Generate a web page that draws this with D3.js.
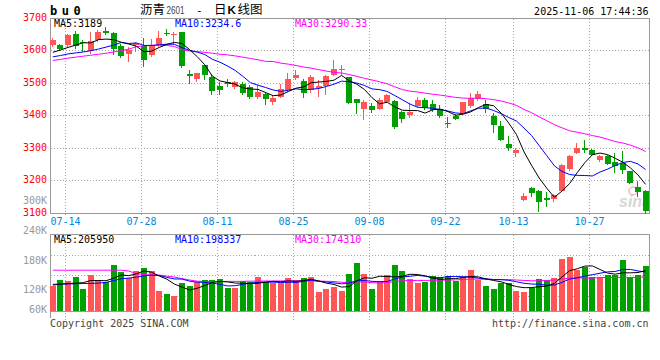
<!DOCTYPE html>
<html><head><meta charset="utf-8">
<script src="https://cdn.jsdelivr.net/npm/d3@7"></script>
<style>body{margin:0;background:#fff}svg{display:block}</style>
</head><body><svg id="c" width="660" height="360"></svg>
<script>
const dates = ["07-11","07-14","07-15","07-16","07-17","07-18","07-21","07-22","07-23","07-24","07-25","07-28","07-29","07-30","07-31",
"08-01","08-04","08-05","08-06","08-07","08-08","08-11","08-12","08-13","08-14","08-15","08-18","08-19","08-20","08-21","08-22","08-25","08-26","08-27","08-28","08-29",
"09-01","09-02","09-03","09-04","09-05","09-08","09-09","09-10","09-11","09-12","09-15","09-16","09-17","09-18","09-19","09-22","09-23","09-24","09-25","09-26","09-29","09-30",
"10-09","10-10","10-13","10-14","10-15","10-16","10-17","10-20","10-21","10-22","10-23","10-24","10-27","10-28","10-29","10-30","10-31",
"11-03","11-04","11-05","11-06"];
const open  = [3619,3617,3617,3651,3628,3600,3633,3663,3656,3614,3592,3617,3614,3587,3617,3655,3648,3658,3530,3513,3556,3519,3493,3505,3490,3500,3490,3459,3469,3444,3458,3480,3517,3507,3480,3487,3493,3526,3541,3520,3452,3421,3431,3421,3444,3446,3411,3403,3431,3448,3437,3421,3377,3400,3410,3432,3452,3437,3400,3369,3313,3286,3143,3178,3170,3147,3144,3170,3236,3285,3303,3296,3264,3276,3258,3255,3230,3181,3169];
const high  = [3640,3622,3652,3663,3633,3658,3666,3673,3658,3622,3612,3628,3640,3638,3663,3668,3660,3658,3541,3533,3558,3526,3505,3515,3507,3505,3495,3495,3474,3464,3500,3531,3541,3515,3526,3510,3526,3571,3556,3520,3452,3449,3441,3454,3469,3449,3415,3439,3458,3455,3449,3434,3398,3406,3444,3472,3477,3449,3408,3385,3340,3301,3163,3181,3172,3166,3160,3252,3280,3316,3327,3298,3280,3280,3286,3292,3232,3199,3172];
const low   = [3613,3600,3612,3607,3597,3590,3628,3650,3587,3580,3566,3597,3551,3582,3612,3646,3622,3548,3500,3505,3510,3464,3464,3490,3483,3464,3452,3452,3434,3434,3455,3475,3510,3456,3472,3459,3464,3522,3526,3436,3405,3388,3408,3418,3439,3360,3378,3395,3425,3420,3413,3395,3362,3388,3405,3426,3446,3408,3347,3324,3293,3273,3138,3152,3106,3121,3134,3165,3232,3282,3285,3276,3258,3248,3225,3222,3190,3152,3100];
const close = [3633,3607,3648,3615,3624,3630,3658,3656,3607,3584,3602,3624,3571,3617,3640,3651,3653,3554,3524,3531,3526,3478,3480,3500,3505,3471,3459,3474,3452,3456,3482,3513,3525,3472,3520,3493,3522,3544,3545,3439,3439,3442,3418,3449,3464,3367,3391,3413,3448,3426,3418,3401,3375,3392,3442,3454,3467,3423,3372,3327,3301,3294,3155,3162,3134,3143,3156,3250,3277,3302,3296,3279,3276,3253,3246,3234,3193,3167,3108];
const volume = [129000,157000,152000,173000,112000,183000,157000,147000,234000,198000,166000,203000,218000,203000,102000,86000,78000,141000,127000,147000,157000,157000,163000,118000,118000,152000,147000,171000,146000,141000,141000,169000,157000,169000,174000,98000,112000,123000,102000,188000,245000,188000,112000,152000,183000,234000,205000,163000,144000,149000,178000,171000,178000,152000,174000,208000,157000,127000,112000,141000,141000,102000,98000,115000,163000,157000,169000,264000,276000,210000,225000,174000,174000,183000,183000,259000,174000,182000,230000];
// moving-average values before a full window exists
const ma5Head  = [3596,3603,3611,3618];
const ma10Head = [3582,3586,3591,3594,3597,3601,3606,3612,3618];
const ma30Head = [3571,3574,3578,3581,3584,3587,3590,3593,3597,3601,3606,3613,3616,3617,3618,3617,3614,3604,3600,3598,3596,3593,3590,3588,3585,3581,3577,3573,3568];
const volMa5Head  = [132000,137000,140000,142000];
const volMa10Head = [136000,137000,138000,139000,140000,141000,142000,146000,155000];
const volMa30Head = [208000,208000,208000,208000,208000,208000,208000,208000,208000,208000,204000,190000,186000,184000,183000,178000,173000,165000,158000,152000,150000,150000,150000,151000,151000,151000,152000,152000,153000];
const priceTicks = [3700,3600,3500,3400,3300,3200,3100];
const priceGrid = [3600,3500,3400,3300,3200];
const volLabels = [300000,240000,180000,120000,60000];
const dateTicks = ["07-14","07-28","08-11","08-25","09-08","09-22","10-13","10-27"];
const maText = {p5:"MA5:3189", p10:"MA10:3234.6", p30:"MA30:3290.33", v5:"MA5:205950", v10:"MA10:198337", v30:"MA30:174310"};

const svg = d3.select("#c");
const MONO = "'DejaVu Sans Mono', monospace";
const RED = "#ff5555", GREEN = "#00a000", GRID = "#a8a8a8", BORDER = "#999";
const L = 50.5, R = 649.5, mTop = 18.5, mBot = 213.5, vTop = 234.5, vBot = 311;

const x = d3.scaleBand().domain(dates).range([49, 49 + dates.length * 7.6]);
const cx = d => x(d) + x.step() / 2;
const y = d3.scaleLinear().domain([3100, 3700]).range([mBot, mTop]);
const yv = d3.scaleLinear().domain([0, 390000]).range([vBot, vTop]);
const yLab = d3.scaleLinear().domain([120000, 300000]).range([293.3, 204]);

function ma(arr, n, head) {
  return arr.map((_, i) => i < n - 1 ? head[i] : d3.mean(arr.slice(i - n + 1, i + 1)));
}

// watermark
const wm = svg.append("g").attr("opacity", 0.55);
wm.append("circle").attr("cx", 633).attr("cy", 191).attr("r", 4).attr("fill", "none").attr("stroke", "#e08080").attr("stroke-width", 1.5);
wm.append("text").attr("x", 619).attr("y", 207).attr("font-family", "'Liberation Sans', sans-serif")
  .attr("font-weight", "bold").attr("font-style", "italic").attr("font-size", 16).attr("fill", "#b8b8b8").text("sina");

// grids
const g = svg.append("g").attr("shape-rendering", "crispEdges");
priceGrid.forEach(t => {
  const yy = Math.round(y(t)) - 0.5;
  g.append("line").attr("x1", L).attr("x2", R).attr("y1", yy).attr("y2", yy)
    .attr("stroke", GRID).attr("stroke-dasharray", "1,2");
});
[1, 2, 3].forEach(k => {
  const yy = Math.floor(vTop + k * 20.5) + 0.5;
  g.append("line").attr("x1", L).attr("x2", R).attr("y1", yy).attr("y2", yy)
    .attr("stroke", GRID).attr("stroke-dasharray", "1,2");
});
dateTicks.forEach(d => {
  const gx = Math.floor(x(d) + x.step() + 1) + 0.5;
  g.append("line").attr("x1", gx).attr("x2", gx).attr("y1", mTop).attr("y2", mBot + 3)
    .attr("stroke", GRID).attr("stroke-dasharray", "1,2");
  g.append("line").attr("x1", gx).attr("x2", gx).attr("y1", vTop).attr("y2", vBot + 9)
    .attr("stroke", GRID).attr("stroke-dasharray", "1,2");
  svg.append("text").attr("x", gx).attr("y", 225.3).attr("text-anchor", "middle")
    .attr("font-family", MONO).attr("font-size", 10).attr("fill", "#0088dd").text(d);
});

// borders
g.append("rect").attr("x", L).attr("y", mTop).attr("width", R - L).attr("height", mBot - mTop)
  .attr("fill", "none").attr("stroke", BORDER);
g.append("rect").attr("x", L).attr("y", vTop).attr("width", R - L).attr("height", vBot - vTop + 0.5)
  .attr("fill", "none").attr("stroke", BORDER);
g.append("line").attr("x1", L).attr("x2", L).attr("y1", vBot).attr("y2", 318).attr("stroke", BORDER);

// candles
const cg = svg.append("g").attr("shape-rendering", "crispEdges");
dates.forEach((d, i) => {
  const col = close[i] >= open[i] ? RED : GREEN;
  const bx = Math.round(cx(d) - 3);
  cg.append("line").attr("x1", bx + 2.5).attr("x2", bx + 2.5)
    .attr("y1", y(high[i])).attr("y2", y(low[i])).attr("stroke", col);
  const top = y(Math.max(open[i], close[i])), bot = y(Math.min(open[i], close[i]));
  cg.append("rect").attr("x", bx).attr("width", 6).attr("y", top).attr("height", Math.max(1, bot - top)).attr("fill", col);
  // volume
  cg.append("rect").attr("x", bx).attr("width", 6).attr("y", yv(volume[i])).attr("height", vBot - yv(volume[i])).attr("fill", col);
});

// MA lines
const ma5 = ma(close, 5, ma5Head), ma10 = ma(close, 10, ma10Head), ma30 = ma(close, 30, ma30Head);
const vma5 = ma(volume, 5, volMa5Head), vma10 = ma(volume, 10, volMa10Head), vma30 = ma(volume, 30, volMa30Head);
const lineP = d3.line().x((d, i) => cx(dates[i])).y(d => y(d));
const lineV = d3.line().x((d, i) => cx(dates[i])).y(d => yv(d));
[[ma30, "#ff00ff"], [ma10, "#0000ff"], [ma5, "#000"]].forEach(([s, c]) =>
  svg.append("path").attr("d", lineP(s)).attr("fill", "none").attr("stroke", c).attr("stroke-width", 1));
[[vma30, "#ff00ff"], [vma10, "#0000ff"], [vma5, "#000"]].forEach(([s, c]) =>
  svg.append("path").attr("d", lineV(s)).attr("fill", "none").attr("stroke", c).attr("stroke-width", 1));

// price axis labels
priceTicks.forEach(t => {
  svg.append("text").attr("x", 47).attr("y", y(t) + 2.3).attr("text-anchor", "end")
    .attr("font-family", MONO).attr("font-size", 10).attr("fill", "#ff0000").text(t);
});
// volume axis labels
volLabels.forEach(v => {
  svg.append("text").attr("x", 47).attr("y", Math.min(yLab(v), 313.3)).attr("text-anchor", "end")
    .attr("font-family", MONO).attr("font-size", 10).attr("fill", "#999").text((v / 1000) + "K");
});

// MA legends
function txt(xp, yp, s, c) {
  svg.append("text").attr("x", xp).attr("y", yp).attr("font-family", MONO).attr("font-size", 10).attr("fill", c).text(s);
}
txt(54, 27, maText.p5, "#000"); txt(175, 27, maText.p10, "#0000ff"); txt(295, 27, maText.p30, "#ff00ff");
txt(54, 242.5, maText.v5, "#000"); txt(175, 242.5, maText.v10, "#0000ff"); txt(295, 242.5, maText.v30, "#ff00ff");

// header
svg.append("text").attr("x", 50).attr("y", 15).attr("font-family", MONO).attr("font-weight", "bold")
  .attr("font-size", 12).attr("letter-spacing", 4.5).attr("fill", "#000").text("bu0");
const CJK = "'Noto Sans CJK SC', sans-serif";
svg.append("text").attr("x", 140).attr("y", 14).attr("font-family", CJK).attr("font-size", 12.5).attr("fill", "#000").text("沥青");
svg.append("text").attr("x", 166.5).attr("y", 14).attr("font-family", "'Liberation Sans', sans-serif").attr("font-size", 11)
  .attr("textLength", 18).attr("lengthAdjust", "spacingAndGlyphs").attr("fill", "#444").text("2601");
svg.append("text").attr("x", 199.3).attr("y", 13.5).attr("text-anchor", "middle").attr("font-family", MONO).attr("font-size", 11).attr("fill", "#000").text("-");
svg.append("text").attr("x", 214).attr("y", 14).attr("font-family", CJK).attr("font-size", 12.5).attr("fill", "#000").text("日");
svg.append("text").attr("x", 227.5).attr("y", 14).attr("font-family", "'Liberation Sans', sans-serif").attr("font-weight", "bold").attr("font-size", 11.5).attr("fill", "#000").text("K");
svg.append("text").attr("x", 237.5).attr("y", 14).attr("font-family", CJK).attr("font-size", 12.5).attr("fill", "#000").text("线图");
svg.append("text").attr("x", 648.5).attr("y", 15).attr("text-anchor", "end").attr("font-family", MONO).attr("font-size", 10).attr("fill", "#000").text("2025-11-06 17:44:36");

// footer
svg.append("text").attr("x", 50).attr("y", 327).attr("font-family", MONO).attr("font-size", 10).attr("fill", "#444").text("Copyright 2025 SINA.COM");
svg.append("text").attr("x", 648.5).attr("y", 327).attr("text-anchor", "end").attr("font-family", MONO).attr("font-size", 10).attr("fill", "#444").text("http://finance.sina.com.cn");
</script></body></html>
